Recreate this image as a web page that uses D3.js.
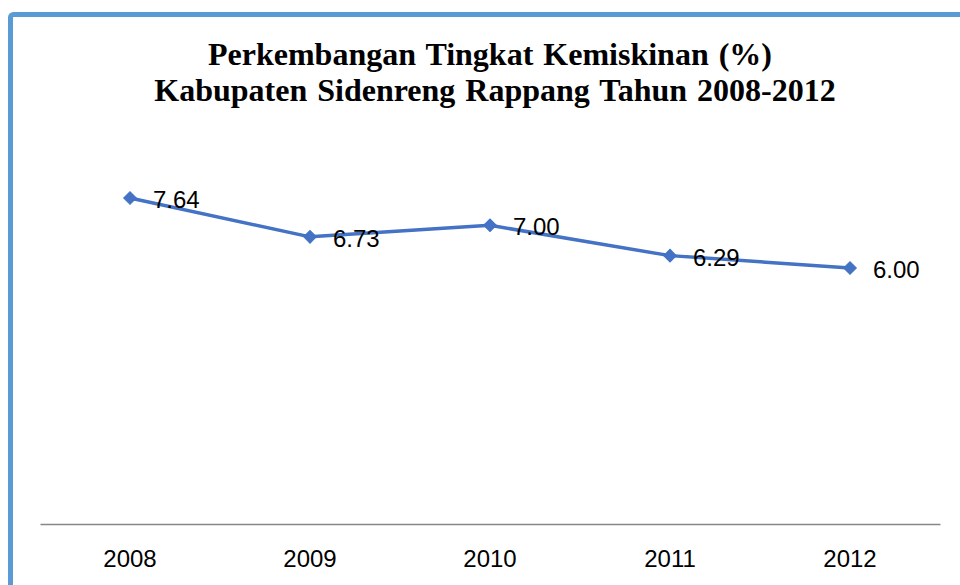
<!DOCTYPE html>
<html>
<head>
<meta charset="utf-8">
<script src="https://cdn.jsdelivr.net/npm/d3@7"></script>
<style>
  html, body { margin: 0; padding: 0; background: #fff; overflow: hidden; }
  svg { display: block; }
</style>
</head>
<body>
<script>
const years = ["2008", "2009", "2010", "2011", "2012"];
const values = [7.64, 6.73, 7.00, 6.29, 6.00];
const valueLabels = ["7.64", "6.73", "7.00", "6.29", "6.00"];
const titleLines = ["Perkembangan Tingkat Kemiskinan (%)", "Kabupaten Sidenreng Rappang Tahun 2008-2012"];

const W = 960, H = 585;
const svg = d3.select("body").append("svg").attr("width", W).attr("height", H);

svg.append("rect").attr("width", W).attr("height", H).attr("fill", "#fff");

// frame
svg.append("rect")
  .attr("x", 10.5).attr("y", 14.5)
  .attr("width", 1100).attr("height", 1100)
  .attr("rx", 3)
  .attr("fill", "none")
  .attr("stroke", "#5B9BD5")
  .attr("stroke-width", 5);

// title
const title = svg.append("text")
  .attr("text-anchor", "middle")
  .attr("font-family", "'Liberation Serif', 'Times New Roman', serif")
  .attr("font-weight", "bold")
  .attr("font-size", 32)
  .attr("word-spacing", 2)
  .attr("fill", "#000");
title.selectAll("tspan").data(titleLines).join("tspan")
  .attr("x", (d, i) => i === 0 ? 490 : 495)
  .attr("y", (d, i) => i === 0 ? 65 : 101)
  .text(d => d);

const x = d3.scaleBand().domain(years).range([40, 940]);
const y = d3.scaleLinear().domain([0, 9]).range([524, 140]);

// axis
const xAxis = d3.axisBottom(x).tickSize(0).tickPadding(0);
const gx = svg.append("g").attr("transform", "translate(0,524)").call(xAxis);
gx.select(".domain").attr("stroke", "#868686").attr("stroke-width", 1.5);
gx.selectAll(".tick text")
  .attr("font-family", "'Liberation Sans', Arial, sans-serif")
  .attr("font-size", 24)
  .attr("fill", "#000")
  .attr("dy", null)
  .attr("y", 43);

const cx = d => x(d) + x.bandwidth() / 2;

// line
const line = d3.line()
  .x((d, i) => cx(years[i]))
  .y(d => y(d));
svg.append("path")
  .datum(values)
  .attr("d", line)
  .attr("fill", "none")
  .attr("stroke", "#4472C4")
  .attr("stroke-width", 3.5)
  .attr("stroke-linejoin", "round");

// markers (diamonds)
const diamond = d3.symbol().type(d3.symbolSquare).size(80);
svg.selectAll(".marker").data(values).join("path")
  .attr("class", "marker")
  .attr("d", diamond)
  .attr("transform", (d, i) => `translate(${cx(years[i])},${y(d)}) rotate(45)`)
  .attr("fill", "#4472C4")
  .attr("stroke", "#4472C4")
  .attr("stroke-width", 1);

// data labels
svg.selectAll(".lbl").data(values).join("text")
  .attr("class", "lbl")
  .attr("x", (d, i) => cx(years[i]) + 23)
  .attr("y", d => y(d) + 10)
  .attr("font-family", "'Liberation Sans', Arial, sans-serif")
  .attr("font-size", 24)
  .attr("fill", "#000")
  .text((d, i) => valueLabels[i]);
</script>
</body>
</html>
